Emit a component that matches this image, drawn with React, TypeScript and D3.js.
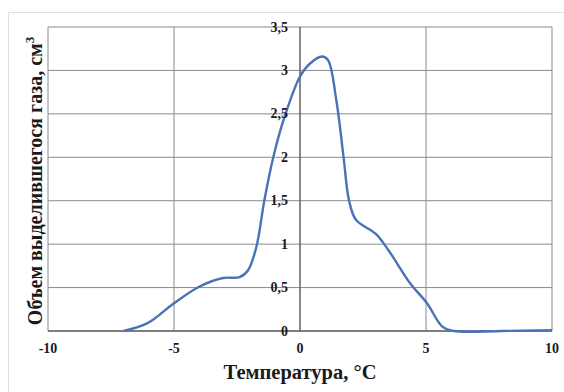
import * as d3 from "d3";

// ── Data ──────────────────────────────────────────────────
const temps = [-7, -6.05, -5, -4, -3.05, -2.4, -2.06, -1.73, -1.41, -1.06, -0.63, 0, 0.4, 0.87, 1.11, 1.44, 1.73, 1.94, 2.22, 3.0, 3.51, 4.37, 5.04, 5.65, 6.1, 8, 10];
const volumes = [0, 0.09, 0.32, 0.51, 0.61, 0.62, 0.7, 0.97, 1.51, 2.0, 2.45, 2.93, 3.08, 3.16, 3.12, 2.66, 2.0, 1.51, 1.28, 1.12, 0.93, 0.55, 0.32, 0.05, 0, 0, 0.01];
const xTicks = [-10, -5, 0, 5, 10];
const yTicks = [0, 0.5, 1, 1.5, 2, 2.5, 3, 3.5];

// ── Layout ────────────────────────────────────────────────
const W = 564;
const H = 392;
const plot = { left: 48, right: 552, top: 27, bottom: 331 };
const FONT = "'Liberation Serif', 'Times New Roman', serif";
const LINE = "#4a72b8";
const INK = "#1a1a1a";

const x = d3.scaleLinear().domain([-10, 10]).range([plot.left, plot.right]);
const y = d3.scaleLinear().domain([0, 3.5]).range([plot.bottom, plot.top]);

const fmt = (v: number) => String(v).replace(".", ",");

export default function App() {
  const pts = temps.map((t, i) => [t, volumes[i]] as [number, number]);
  // smoothed line, kept from dipping under the axis
  const path = d3.line<[number, number]>()
    .x(d => x(d[0]))
    .y(d => Math.min(y(d[1]), plot.bottom))
    .curve(d3.curveCatmullRom.alpha(0.5))(pts) ?? "";

  return (
    <svg width={W} height={H} style={{ position: "fixed", left: 0, top: 0, background: "#fff" }}>
      <rect x={0} y={0} width={W} height={H} fill="#fff" />
      {/* chart frame */}
      <rect x={8.5} y={12.5} width={W} height={H} fill="none" stroke="#e0e0e0" />

      {/* grid */}
      {yTicks.map(t => (
        <line key={"gy" + t} x1={plot.left} x2={plot.right} y1={y(t)} y2={y(t)}
          stroke="#8a8a8a" strokeWidth={1} />
      ))}
      {xTicks.map(t => (
        <line key={"gx" + t} x1={x(t)} x2={x(t)} y1={plot.top} y2={plot.bottom}
          stroke="#8a8a8a" strokeWidth={1} />
      ))}
      {/* axes */}
      <line x1={plot.left} x2={plot.right} y1={y(0)} y2={y(0)} stroke="#666" strokeWidth={1.3} />
      <line x1={x(0)} x2={x(0)} y1={plot.top} y2={plot.bottom} stroke="#666" strokeWidth={1.3} />

      {/* curve */}
      <path d={path} fill="none" stroke={LINE} strokeWidth={2.4} strokeLinejoin="round" />

      {/* y tick labels at x = 0 */}
      {yTicks.map(t => (
        <text key={"ly" + t} x={x(0) - 12} y={y(t) + 4.5} textAnchor="end"
          fontFamily={FONT} fontWeight="bold" fontSize={14} fill={INK}>
          {fmt(t)}
        </text>
      ))}
      {/* x tick labels */}
      {xTicks.map(t => (
        <text key={"lx" + t} x={x(t)} y={353} textAnchor="middle"
          fontFamily={FONT} fontWeight="bold" fontSize={14} fill={INK}>
          {t}
        </text>
      ))}

      {/* axis titles */}
      <text x={x(0)} y={379} textAnchor="middle" fontFamily={FONT} fontWeight="bold"
        fontSize={20.5} fill={INK}>
        Температура, °C
      </text>
      <text transform={`translate(42, ${(plot.top + plot.bottom) / 2 + 2}) rotate(-90)`}
        textAnchor="middle" fontFamily={FONT} fontWeight="bold" fontSize={20} fill={INK}>
        Объем выделившегося газа, см<tspan dy={-8} fontSize={13}>3</tspan>
      </text>
    </svg>
  );
}
